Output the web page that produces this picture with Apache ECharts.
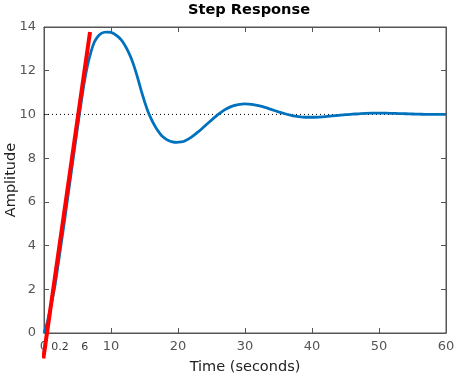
<!DOCTYPE html>
<html><head><meta charset="utf-8">
<script src="https://cdn.jsdelivr.net/npm/echarts@6/dist/echarts.min.js"></script>
<style>html,body{margin:0;padding:0;background:#fff}#c{width:463px;height:379px}</style>
</head><body><div id="c"></div>
<script>
// Step response (time, amplitude)
const stepTime = [0,0.5,1,1.6,2,3,4,5,5.5,6,6.5,7,7.5,8,8.5,9,9.5,10,10.5,11,11.5,12,12.5,13,13.5,14,14.5,15,15.5,16,16.5,17,17.5,18,18.5,19,19.8,20.5,21,22,23,24,25,26,27,28,29,30,31,32,33,34,35,36,37,38,39,40,41,42,43,44,45,46,47,48,49,50,51,52,53,54,55,56,57,58,59,60];
const stepAmp = [0,0.5,1.2,2.1,2.9,5.0,7.2,9.4,10.45,11.45,12.25,12.85,13.3,13.55,13.7,13.76,13.77,13.75,13.68,13.57,13.42,13.2,12.92,12.58,12.15,11.65,11.1,10.6,10.15,9.8,9.5,9.25,9.05,8.92,8.82,8.76,8.72,8.74,8.78,8.96,9.2,9.47,9.74,10.0,10.22,10.37,10.45,10.48,10.46,10.4,10.32,10.22,10.12,10.03,9.95,9.9,9.87,9.87,9.88,9.9,9.93,9.96,9.99,10.01,10.03,10.05,10.06,10.06,10.06,10.05,10.04,10.03,10.02,10.01,10.0,10.0,10.0,10.0];
// Tangent line endpoints
const tangentTime = [-0.1, 6.87];
const tangentAmp = [-1.16, 13.77];
// Steady-state reference
const refTime = [0, 60];
const refAmp = [10, 10];
// Annotations
const annotTime = [2.4, 6.1];
const annotAmp = [-0.65, -0.65];
const annotText = ['0.2', '6'];
const xTicks = [0,10,20,30,40,50,60];
const yTicks = [0,2,4,6,8,10,12,14];

const chart = echarts.init(document.getElementById('c'));
const font = 'DejaVu Sans';
const axisCommon = {
  type:'value', axisLine:{show:true,onZero:false,lineStyle:{color:'#555',width:1}},
  axisTick:{show:true,inside:true,length:5,lineStyle:{color:'#555'}},
  splitLine:{show:false}
};
chart.setOption({
  animation:false,
  title:{text:'Step Response',left:244,top:-2,textAlign:'center',
    textStyle:{fontFamily:font,fontSize:14.6,fontWeight:'bold',color:'#000'}},
  grid:{left:44,right:17,top:27,bottom:46,containLabel:false,outerBoundsMode:'none',
    show:true,borderColor:'#555',borderWidth:1,backgroundColor:'transparent'},
  xAxis:[
    Object.assign({},axisCommon,{min:xTicks[0],max:xTicks[xTicks.length-1],interval:10,position:'bottom',
      name:'Time (seconds)',nameLocation:'middle',nameGap:27,nameMoveOverlap:false,
      nameTextStyle:{fontFamily:font,fontSize:14.5,color:'#222'},
      axisLabel:{fontFamily:font,fontSize:13,color:'#555',margin:7}}),
    Object.assign({},axisCommon,{min:0,max:60,interval:10,position:'top',axisLabel:{show:false}})
  ],
  yAxis:[
    Object.assign({},axisCommon,{min:yTicks[0],max:yTicks[yTicks.length-1],interval:2,position:'left',
      name:'Amplitude',nameLocation:'middle',nameGap:25,nameMoveOverlap:false,
      nameTextStyle:{fontFamily:font,fontSize:14.5,color:'#222'},
      axisLabel:{fontFamily:font,fontSize:13,color:'#555',margin:8}}),
    Object.assign({},axisCommon,{min:0,max:14,interval:2,position:'right',axisLabel:{show:false}})
  ],
  series:[
    {type:'line',data:refTime.map((t,i)=>[t,refAmp[i]]),symbol:'none',silent:true,
      lineStyle:{color:'#000',width:1,type:[1,3]}},
    {type:'line',data:stepTime.map((t,i)=>[t,stepAmp[i]]),symbol:'none',smooth:0.2,
      lineStyle:{color:'#0072BD',width:2.8}},
    {type:'line',data:tangentTime.map((t,i)=>[t,tangentAmp[i]]),symbol:'none',clip:false,
      lineStyle:{color:'#ff0000',width:4}},
    {type:'scatter',clip:false,symbolSize:0,data:annotTime.map((t,i)=>[t,annotAmp[i],annotText[i]]),
      label:{show:true,position:'inside',formatter:p=>p.value[2],fontFamily:font,fontSize:11,color:'#000'}}
  ]
});
</script></body></html>
